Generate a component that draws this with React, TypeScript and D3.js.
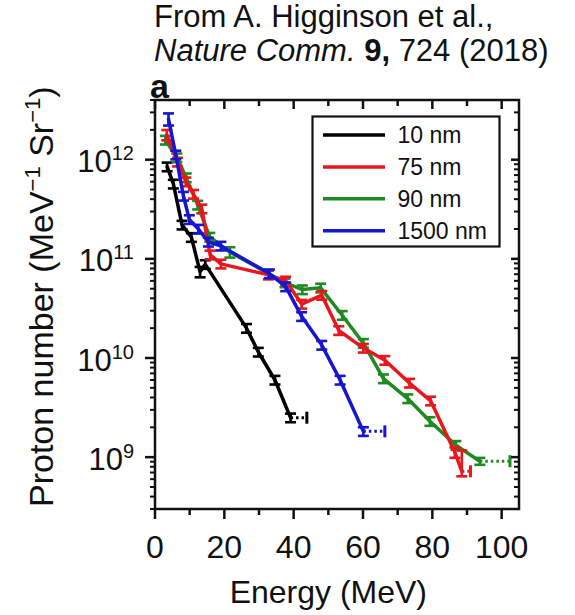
import React from "react";
import * as d3 from "d3";

const W = 575;
const H = 615;

// ---- Data (energy in MeV, proton number in MeV^-1 Sr^-1) ----
const energy10nm = [3.5, 5.3, 7.8, 10.5, 13.0, 14.5, 26.4, 29.8, 34.6, 39.1];
const proton10nm = [8.5e11, 5.7e11, 2.2e11, 1.65e11, 7.4e10, 8.8e10, 2.0e10, 1.15e10, 6.0e9, 2.5e9];
const errUp10nm = [0.1, 0.1, 0.1, 0.1, 0.12, 0.1, 0.1, 0.1, 0.1, 0.1];
const errDown10nm = [0.1, 0.1, 0.1, 0.1, 0.12, 0.1, 0.1, 0.1, 0.1, 0.1];

const energy75nm = [3.4, 6.5, 8.9, 11.1, 13.5, 15.9, 19.0, 32.7, 37.7, 42.3, 48.1, 53.0, 60.1, 66.3, 73.4, 79.5, 86.5, 88.5];
const proton75nm = [1.78e12, 9.5e11, 6.0e11, 4.5e11, 3.2e11, 1.1e11, 8.9e10, 6.9e10, 6.0e10, 3.5e10, 4.3e10, 1.9e10, 1.26e10, 9.5e9, 5.6e9, 3.7e9, 1.12e9, 7.2e8];
const errUp75nm = [0.12, 0.1, 0.1, 0.1, 0.1, 0.1, 0.1, 0.1, 0.1, 0.1, 0.1, 0.1, 0.1, 0.1, 0.1, 0.1, 0.12, 0.62];
const errDown75nm = [0.12, 0.1, 0.1, 0.1, 0.1, 0.1, 0.1, 0.1, 0.1, 0.1, 0.1, 0.1, 0.1, 0.1, 0.1, 0.1, 0.12, 0.11];

const energy90nm = [3.0, 6.3, 9.0, 12.3, 15.8, 21.6, 37.5, 42.5, 47.8, 54.0, 60.1, 65.9, 72.9, 79.3, 86.8, 93.7];
const proton90nm = [1.58e12, 1.05e12, 6.6e11, 3.5e11, 1.66e11, 1.17e11, 5.75e10, 4.9e10, 5.1e10, 2.7e10, 1.41e10, 6.2e9, 3.9e9, 2.3e9, 1.32e9, 9.1e8];
const errUp90nm = [0.1, 0.1, 0.1, 0.1, 0.1, 0.12, 0.1, 0.1, 0.1, 0.1, 0.1, 0.1, 0.1, 0.1, 0.1, 0.08];
const errDown90nm = [0.1, 0.1, 0.1, 0.1, 0.1, 0.12, 0.1, 0.1, 0.1, 0.1, 0.1, 0.1, 0.1, 0.1, 0.1, 0.08];

const energy1500nm = [3.9, 6.0, 8.2, 9.9, 12.5, 15.4, 19.0, 33.0, 37.7, 42.3, 48.1, 53.4, 60.1];
const proton1500nm = [2.57e12, 1.12e12, 4.3e11, 2.5e11, 2.0e11, 1.48e11, 1.35e11, 7.1e10, 5.25e10, 2.63e10, 1.35e10, 6.0e9, 1.82e9];
const errUp1500nm = [0.14, 0.1, 0.1, 0.1, 0.1, 0.1, 0.1, 0.1, 0.1, 0.1, 0.1, 0.1, 0.1];
const errDown1500nm = [0.14, 0.1, 0.1, 0.1, 0.1, 0.1, 0.1, 0.1, 0.1, 0.1, 0.1, 0.1, 0.1];

// horizontal (energy) uncertainty of the last point of each series, MeV
const lastPointEnergyEnd = [43.8, 91.0, 102.4, 66.3];

const seriesLabels = ["10 nm", "75 nm", "90 nm", "1500 nm"];
const seriesColors = ["#000000", "#e8161d", "#1f8a22", "#1515d2"];

const xTicks = [0, 10, 20, 30, 40, 50, 60, 70, 80, 90, 100];
const xTickLabels = [0, 20, 40, 60, 80, 100];
const yDecades = [9, 10, 11, 12];

const FONT = "'Liberation Sans', Arial, Helvetica, sans-serif";
const INK = "#111";

type Series = {
  label: string;
  color: string;
  energy: number[];
  proton: number[];
  up: number[];
  down: number[];
  end: number;
};

const series: Series[] = [
  { label: seriesLabels[0], color: seriesColors[0], energy: energy10nm, proton: proton10nm, up: errUp10nm, down: errDown10nm, end: lastPointEnergyEnd[0] },
  { label: seriesLabels[1], color: seriesColors[1], energy: energy75nm, proton: proton75nm, up: errUp75nm, down: errDown75nm, end: lastPointEnergyEnd[1] },
  { label: seriesLabels[2], color: seriesColors[2], energy: energy90nm, proton: proton90nm, up: errUp90nm, down: errDown90nm, end: lastPointEnergyEnd[2] },
  { label: seriesLabels[3], color: seriesColors[3], energy: energy1500nm, proton: proton1500nm, up: errUp1500nm, down: errDown1500nm, end: lastPointEnergyEnd[3] },
];
const drawOrder = [0, 2, 1, 3];

export default function App() {
  const left = 155, right = 519, top = 100, bottom = 509;
  const x = d3.scaleLinear().domain([0, 105]).range([left, right]);
  const y = d3.scaleLog().domain([3e8, 4e12]).range([bottom, top]);

  const minorY: number[] = [];
  for (let d = 8; d <= 12; d++) {
    for (let m = 2; m <= 9; m++) {
      const v = m * Math.pow(10, d);
      if (v >= 3e8 && v <= 4e12) minorY.push(v);
    }
  }

  const line = d3
    .line<[number, number]>()
    .x((d) => x(d[0]))
    .y((d) => y(d[1]));

  const cap = 5.5;

  return (
    <svg
      width={W}
      height={H}
      viewBox={`0 0 ${W} ${H}`}
      style={{ position: "absolute", left: 0, top: 0, display: "block", background: "#fff" }}
      fontFamily={FONT}
    >
      <rect x={0} y={0} width={W} height={H} fill="#fff" />

      {/* citation */}
      <text x={154} y={27} fontSize={31} fill={INK}>From A. Higginson et al.,</text>
      <text x={154} y={61} fontSize={31} fill={INK}>
        <tspan fontStyle="italic">Nature Comm.</tspan>
        <tspan fontWeight="bold"> 9,</tspan>
        <tspan> 724 (2018)</tspan>
      </text>
      <text x={150} y={98} fontSize={34} fontWeight="bold" fill={INK}>a</text>

      {/* data */}
      {drawOrder.map((si) => {
        const s = series[si];
        const pts: [number, number][] = s.energy.map((e, i) => [e, s.proton[i]]);
        const last = pts[pts.length - 1];
        return (
          <g key={s.label}>
            <path d={line(pts) || ""} fill="none" stroke={s.color} strokeWidth={3.5} strokeLinejoin="round" strokeLinecap="round" />
            {pts.map((p, i) => {
              const cx = x(p[0]);
              const y1 = y(p[1] * (1 + s.up[i]));
              const y2 = y(p[1] * (1 - s.down[i]));
              return (
                <g key={i} stroke={s.color} strokeWidth={2.6}>
                  <line x1={cx} x2={cx} y1={y1} y2={y2} />
                  <line x1={cx - cap} x2={cx + cap} y1={y1} y2={y1} />
                  <line x1={cx - cap} x2={cx + cap} y1={y2} y2={y2} />
                </g>
              );
            })}
            <line x1={x(last[0])} x2={x(s.end)} y1={y(last[1])} y2={y(last[1])} stroke={s.color} strokeWidth={3} strokeDasharray="2.5,3" />
            <line x1={x(s.end)} x2={x(s.end)} y1={y(last[1]) - 6} y2={y(last[1]) + 6} stroke={s.color} strokeWidth={3} />
          </g>
        );
      })}

      {/* frame */}
      <rect x={left} y={top} width={right - left} height={bottom - top} fill="none" stroke={INK} strokeWidth={2.5} />

      {/* x ticks: bottom outward, top inward */}
      {xTicks.map((t) => {
        const major = t % 20 === 0;
        return (
          <g key={"xt" + t} stroke={INK} strokeWidth={2.5}>
            <line x1={x(t)} x2={x(t)} y1={bottom} y2={bottom + (major ? 10 : 6)} />
            <line x1={x(t)} x2={x(t)} y1={top} y2={top + (major ? 9 : 6)} />
          </g>
        );
      })}
      {xTickLabels.map((t) => (
        <text key={"xl" + t} x={x(t)} y={558} fontSize={32} textAnchor="middle" fill={INK}>
          {t}
        </text>
      ))}

      {/* y ticks: left outward, right inward */}
      {yDecades.map((d) => {
        const v = Math.pow(10, d);
        return (
          <g key={"yt" + d} stroke={INK} strokeWidth={2.5}>
            <line x1={left - 10} x2={left} y1={y(v)} y2={y(v)} />
            <line x1={right - 8} x2={right} y1={y(v)} y2={y(v)} />
          </g>
        );
      })}
      {minorY.map((v, i) => (
        <g key={"ym" + i} stroke={INK} strokeWidth={2}>
          <line x1={left - 5} x2={left} y1={y(v)} y2={y(v)} />
          <line x1={right - 5} x2={right} y1={y(v)} y2={y(v)} />
        </g>
      ))}
      {yDecades.map((d) => (
        <text key={"yl" + d} x={134} y={y(Math.pow(10, d)) + 12.5} fontSize={31} textAnchor="end" fill={INK}>
          <tspan>10</tspan>
          <tspan fontSize={20} dy={-12}>{d}</tspan>
        </text>
      ))}

      {/* axis titles */}
      <text x={(x(0) + x(100)) / 2} y={603} fontSize={32} textAnchor="middle" fill={INK}>
        Energy (MeV)
      </text>
      <text transform="translate(53,507) rotate(-90)" fontSize={34} fill={INK}>
        <tspan>Proton number (MeV</tspan>
        <tspan fontSize={22} dy={-13}>−1</tspan>
        <tspan dy={13}> Sr</tspan>
        <tspan fontSize={22} dy={-13}>−1</tspan>
        <tspan dy={13}>)</tspan>
      </text>

      {/* legend */}
      <rect x={312.5} y={116.5} width={187} height={130} fill="#fff" stroke={INK} strokeWidth={2.2} />
      {series.map((s, i) => {
        const ly = 135 + i * 31.9;
        return (
          <g key={"lg" + i}>
            <line x1={323} x2={385} y1={ly} y2={ly} stroke={s.color} strokeWidth={3.5} />
            <text x={397.5} y={ly + 8} fontSize={23} fill={INK}>{s.label}</text>
          </g>
        );
      })}
    </svg>
  );
}
